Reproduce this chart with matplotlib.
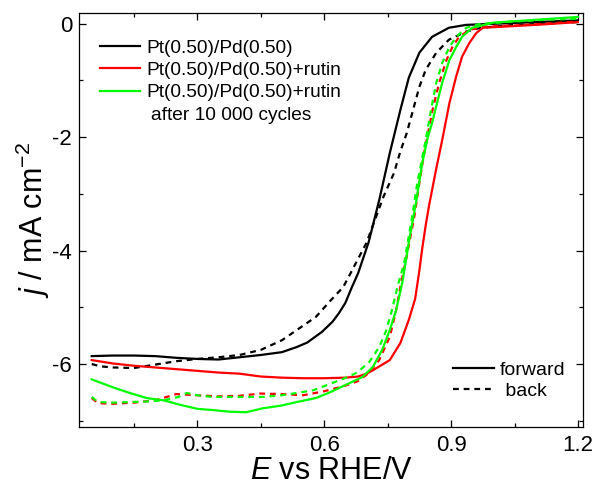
import numpy as np
import matplotlib
matplotlib.use('Agg')
import matplotlib.pyplot as plt

# Pt(0.50)/Pd(0.50)
blackForwardE = [0.05, 0.10, 0.15, 0.20, 0.25, 0.30, 0.35, 0.40, 0.45, 0.50, 0.535, 0.56, 0.595, 0.62, 0.635, 0.65,
                 0.665, 0.68, 0.705, 0.73, 0.755, 0.78, 0.80, 0.825, 0.855, 0.895, 0.935, 1.0, 1.1, 1.2]
blackForwardJ = [-5.86, -5.85, -5.85, -5.86, -5.89, -5.91, -5.92, -5.88, -5.84, -5.79, -5.70, -5.62, -5.43, -5.25, -5.10,
                 -4.92, -4.65, -4.40, -3.85, -3.11, -2.28, -1.52, -0.95, -0.51, -0.23, -0.07, -0.02, 0.0, 0.03, 0.06]
blackBackE = [0.05, 0.07, 0.10, 0.15, 0.20, 0.25, 0.30, 0.35, 0.40, 0.45, 0.50, 0.535, 0.58, 0.61, 0.645, 0.66, 0.70,
              0.74, 0.765, 0.78, 0.795, 0.81, 0.825, 0.84, 0.865, 0.895, 0.935, 0.97, 1.05, 1.12, 1.2]
blackBackJ = [-6.0, -6.04, -6.06, -6.07, -6.01, -5.95, -5.91, -5.88, -5.84, -5.75, -5.58, -5.40, -5.17, -4.92, -4.64,
              -4.43, -3.86, -3.05, -2.63, -2.25, -1.93, -1.52, -1.11, -0.81, -0.51, -0.28, -0.14, -0.07, -0.02, 0.0, 0.03]

# Pt(0.50)/Pd(0.50)+rutin
redForwardE = [0.05, 0.10, 0.15, 0.20, 0.25, 0.30, 0.35, 0.40, 0.45, 0.50, 0.55, 0.60, 0.65, 0.68, 0.70, 0.715, 0.735,
               0.755, 0.78, 0.80, 0.815, 0.825, 0.832, 0.84, 0.848, 0.865, 0.879, 0.896, 0.912, 0.926, 0.943, 0.96,
               0.975, 1.05, 1.12, 1.2]
redForwardJ = [-5.93, -5.99, -6.03, -6.06, -6.09, -6.12, -6.15, -6.17, -6.22, -6.24, -6.25, -6.25, -6.24, -6.22, -6.17,
               -6.11, -6.02, -5.93, -5.63, -5.22, -4.85, -4.35, -3.95, -3.55, -3.20, -2.55, -2.05, -1.40, -0.93, -0.58,
               -0.34, -0.16, -0.07, -0.04, -0.01, 0.03]
redBackE = [0.05, 0.065, 0.10, 0.15, 0.20, 0.25, 0.30, 0.35, 0.40, 0.45, 0.50, 0.55, 0.60, 0.65, 0.68, 0.705, 0.73,
            0.755, 0.77, 0.78, 0.795, 0.813, 0.825, 0.837, 0.845, 0.856, 0.872, 0.889, 0.903, 0.919, 0.943, 0.98, 1.05,
            1.12, 1.2]
redBackJ = [-6.60, -6.69, -6.70, -6.68, -6.64, -6.53, -6.55, -6.57, -6.56, -6.52, -6.53, -6.55, -6.48, -6.38, -6.30,
            -6.16, -5.93, -5.52, -5.05, -4.64, -4.10, -3.40, -2.80, -2.25, -1.95, -1.52, -1.04, -0.64, -0.41, -0.23,
            -0.11, -0.05, -0.03, 0.0, 0.04]

# Pt(0.50)/Pd(0.50)+rutin after 10 000 cycles
greenForwardE = [0.05, 0.10, 0.14, 0.18, 0.22, 0.26, 0.30, 0.335, 0.375, 0.415, 0.455, 0.50, 0.535, 0.58, 0.61, 0.65,
                 0.69, 0.715, 0.737, 0.755, 0.77, 0.785, 0.801, 0.818, 0.832, 0.845, 0.855, 0.865, 0.879, 0.896, 0.912,
                 0.926, 0.95, 1.0, 1.1, 1.2]
greenForwardJ = [-6.27, -6.41, -6.51, -6.60, -6.64, -6.72, -6.79, -6.81, -6.84, -6.85, -6.78, -6.73, -6.67, -6.60,
                 -6.51, -6.37, -6.23, -6.05, -5.75, -5.40, -5.05, -4.55, -3.81, -3.11, -2.45, -2.00, -1.75, -1.45,
                 -1.04, -0.64, -0.41, -0.23, -0.07, 0.02, 0.07, 0.12]
greenBackE = [0.05, 0.065, 0.10, 0.14, 0.18, 0.22, 0.255, 0.275, 0.30, 0.335, 0.375, 0.415, 0.455, 0.50, 0.535, 0.575,
              0.61, 0.645, 0.675, 0.705, 0.73, 0.747, 0.76, 0.773, 0.789, 0.808, 0.82, 0.837, 0.853, 0.865, 0.879,
              0.896, 0.912, 0.936, 0.97, 1.05, 1.12, 1.2]
greenBackJ = [-6.58, -6.67, -6.68, -6.67, -6.66, -6.64, -6.58, -6.51, -6.55, -6.58, -6.58, -6.58, -6.58, -6.55, -6.51,
              -6.46, -6.36, -6.26, -6.16, -5.98, -5.70, -5.40, -5.05, -4.64, -4.22, -3.40, -2.81, -2.17, -1.50, -1.04,
              -0.69, -0.41, -0.23, -0.07, 0.0, 0.04, 0.07, 0.09]

sampleLabels = ['Pt(0.50)/Pd(0.50)', 'Pt(0.50)/Pd(0.50)+rutin', 'Pt(0.50)/Pd(0.50)+rutin']
xTicks = [0.3, 0.6, 0.9, 1.2]
yTicks = [0, -2, -4, -6]

plt.rcParams['font.family'] = ['Liberation Sans', 'DejaVu Sans']
plt.rcParams['mathtext.fontset'] = 'custom'
plt.rcParams['mathtext.rm'] = 'Liberation Sans'
plt.rcParams['mathtext.it'] = 'Liberation Sans:italic'
plt.rcParams['axes.unicode_minus'] = False


def main():
    figure = plt.figure(figsize=(5.96, 4.87), dpi=100)
    axis = figure.add_axes([0.1326, 0.1232, 0.8456, 0.8501])

    lineWidth = 1.6
    dashPattern = (2.6, 2.2)
    colors = ['#000000', '#ff0000', '#00ff00']
    curves = [(blackForwardE, blackForwardJ, blackBackE, blackBackJ),
              (redForwardE, redForwardJ, redBackE, redBackJ),
              (greenForwardE, greenForwardJ, greenBackE, greenBackJ)]

    sampleHandles = []
    for color, (fE, fJ, bE, bJ) in zip(colors, curves):
        h, = axis.plot(fE, fJ, '-', color=color, lw=lineWidth)
        axis.plot(bE, bJ, '--', color=color, lw=lineWidth, dashes=dashPattern)
        sampleHandles.append(h)

    axis.set_xlim(0.02, 1.212)
    axis.set_ylim(-7.11, 0.19)
    axis.set_xticks(xTicks)
    axis.set_xticks(np.arange(0.15, 1.21, 0.3), minor=True)
    axis.set_yticks(yTicks)
    axis.set_yticks([-1, -3, -5, -7], minor=True)
    axis.tick_params(which='both', direction='in', top=True, right=True, labelsize=16, width=0.9)
    axis.tick_params(which='major', length=5)
    axis.tick_params(which='minor', length=3)
    axis.tick_params(axis='x', pad=6)
    axis.tick_params(axis='y', pad=5)
    for spine in axis.spines.values():
        spine.set_linewidth(0.9)

    axis.set_xlabel(r'$E$ vs RHE/V', fontsize=22, labelpad=0)
    axis.set_ylabel(r'$j$ / mA cm$^{-2}$', fontsize=22, labelpad=0)

    sampleLegend = axis.legend(sampleHandles, sampleLabels, loc='upper left', bbox_to_anchor=(0.042, 0.936),
                               frameon=False, fontsize=13.8, handlelength=2.1, handletextpad=0.3,
                               labelspacing=0.25, borderpad=0, borderaxespad=0)
    axis.add_artist(sampleLegend)
    axis.text(0.143, 0.752, 'after 10 000 cycles', transform=axis.transAxes, fontsize=13.8, va='center')

    f1, = axis.plot([], [], '-', color='black', lw=lineWidth)
    b1, = axis.plot([], [], '--', color='black', lw=lineWidth, dashes=dashPattern)
    axis.legend((f1, b1), ('forward', ' back'), loc='upper left', bbox_to_anchor=(0.742, 0.158),
                frameon=False, fontsize=14, handlelength=2.1, handletextpad=0.3,
                labelspacing=0.15, borderpad=0, borderaxespad=0)

    figure.savefig('out.png', dpi=100)


main()
